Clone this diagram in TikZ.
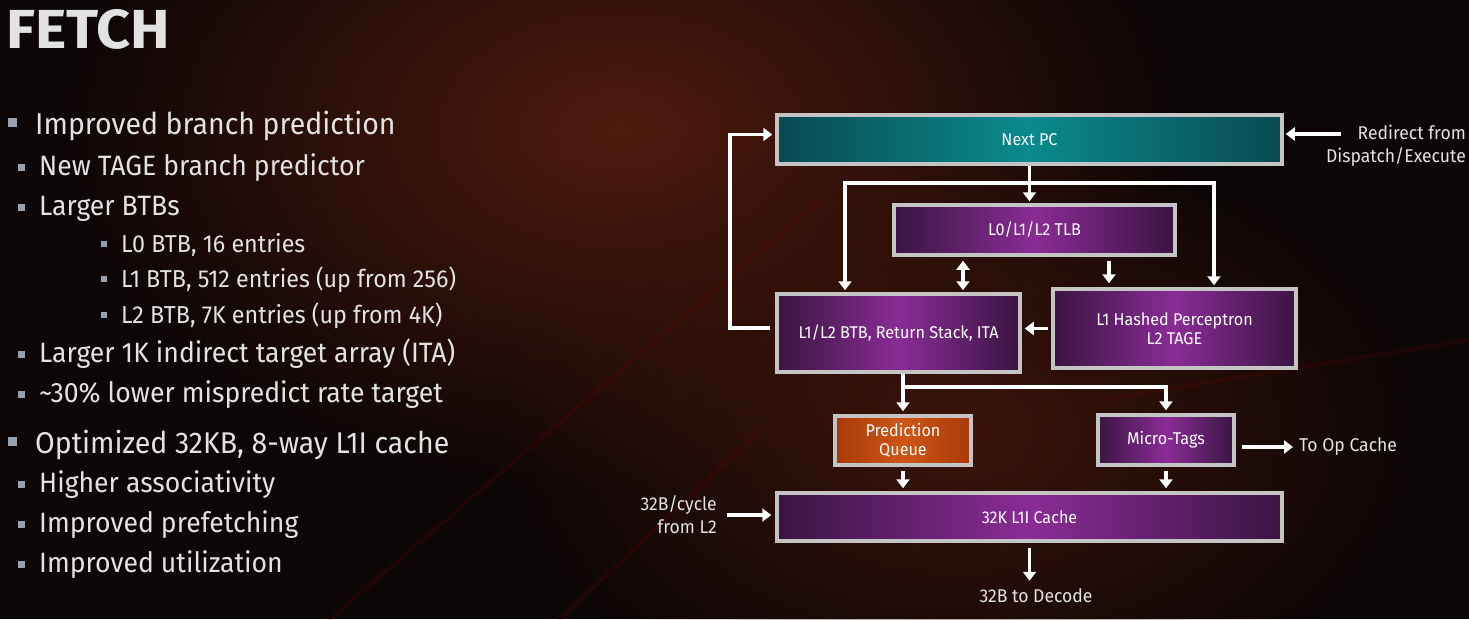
\documentclass[tikz,border=0pt]{standalone}
\usepackage{fontspec}
\setmainfont{Fira Sans}[FakeStretch=0.95]
\newfontfamily\titlefont{Fira Sans}[FakeStretch=1.08]
\usetikzlibrary{positioning,arrows.meta,fadings}

\definecolor{slidebg}{RGB}{12,6,6}
\definecolor{ember}{RGB}{80,26,14}
\definecolor{bevel}{RGB}{196,196,196}
\definecolor{plumedge}{RGB}{58,20,66}
\definecolor{plummid}{RGB}{138,44,150}
\definecolor{tealedge}{RGB}{8,74,80}
\definecolor{tealmid}{RGB}{10,138,142}
\definecolor{rustedge}{RGB}{170,58,10}
\definecolor{rustmid}{RGB}{206,86,22}
\definecolor{silver}{RGB}{226,226,226}
\definecolor{bulletgray}{RGB}{150,160,175}

\tikzfading[name=glowfade, inner color=transparent!0, outer color=transparent!100]

\tikzset{
  unit/.style={rectangle, draw=bevel, line width=3.5pt, text=white, align=center,
    inner sep=2pt, font=\fontsize{17}{19}\selectfont},
  pcbox/.style={unit, left color=tealedge, right color=tealedge, middle color=tealmid},
  plumbox/.style={unit, left color=plumedge, right color=plumedge, middle color=plummid},
  rustbox/.style={unit, left color=rustedge, right color=rustedge, middle color=rustmid},
  lbl/.style={text=silver, inner sep=0pt, font=\fontsize{18.5}{23}\selectfont},
  head/.style={text=silver, anchor=base west, inner sep=0pt, font=\fontsize{30}{36}\selectfont},
  sub/.style={text=silver, anchor=base west, inner sep=0pt, font=\fontsize{28}{32}\selectfont},
  subsub/.style={text=silver, anchor=base west, inner sep=0pt, font=\fontsize{24.5}{28}\selectfont},
  flow/.style={draw=white, line width=3.6pt, -{Triangle[length=9pt,width=13pt]}},
  twoway/.style={flow, {Triangle[length=9pt,width=13pt]}-{Triangle[length=9pt,width=13pt]}},
  glow/.style={path fading=glowfade},
  streak/.style={draw=red!55!black, line width=4pt, opacity=0.14, line cap=round}
}

\begin{document}
\begin{tikzpicture}[x=1pt, y=-1pt]
% background
\useasboundingbox (0,0) rectangle (1469,619);
\begin{scope}
\clip (0,0) rectangle (1469,619);
\fill[slidebg] (0,0) rectangle (1469,619);
\fill[ember, glow] (620,130) ellipse (560 and 360);
\fill[ember!70!slidebg, glow] (960,430) ellipse (460 and 300);
\draw[streak] (330,619) -- (820,200);
\draw[streak] (560,619) -- (760,430);
\draw[streak] (1100,400) -- (1469,340);
\end{scope}

% left column
\node[anchor=base west, inner sep=0pt, text=silver,
  font=\titlefont\bfseries\fontsize{55}{60}\selectfont] (title) at (6,48) {FETCH};
\foreach \y in {122,441} \fill[bulletgray] (8,\y-4.5) rectangle ++(9,9);
\foreach \y in {167,207,354,394,484,524,564} \fill[bulletgray] (18,\y-3.5) rectangle ++(7,7);
\foreach \y in {244,279,315} \fill[bulletgray] (101,\y-3) rectangle ++(6,6);

\node[head] (bp) at (35,134) {Improved branch prediction};
\node[sub] (tage) at (39,175) {New TAGE branch predictor};
\node[sub] (btbs) at (39,215) {Larger BTBs};
\node[subsub] (lzero) at (121,252) {L0 BTB, 16 entries};
\node[subsub] (lone) at (121,287) {L1 BTB, 512 entries (up from 256)};
\node[subsub] (ltwo) at (121,323) {L2 BTB, 7K entries (up from 4K)};
\node[sub] (ita) at (39,362) {Larger 1K indirect target array (ITA)};
\node[sub] (misp) at (39,402) {\textasciitilde30\% lower mispredict rate target};
\node[head] (icache) at (35,453) {Optimized 32KB, 8-way L1I cache};
\node[sub] (assoc) at (39,492) {Higher associativity};
\node[sub] (prefetch) at (39,532) {Improved prefetching};
\node[sub] (util) at (39,572) {Improved utilization};

% fetch blocks
\node[pcbox, minimum width=505, minimum height=49] (pc) at (1029.5,139.5) {Next PC};
\node[plumbox, minimum width=281, minimum height=50] (tlb) at (1034.5,230) {L0/L1/L2 TLB};
\node[plumbox, minimum width=243, minimum height=78] (btb) at (898.5,333) {L1/L2 BTB, Return Stack, ITA};
\node[plumbox, minimum width=243, minimum height=79] (perc) at (1174.5,328.5) {L1 Hashed Perceptron\\L2 TAGE};
\node[rustbox, minimum width=136, minimum height=49] (pq) at (903,440.5) {Prediction\\Queue};
\node[plumbox, minimum width=136, minimum height=50] (mt) at (1166,440) {Micro-Tags};
\node[plumbox, minimum width=505, minimum height=48] (l1i) at (1029.5,517) {32K L1I Cache};

% outside labels
\node[lbl, align=right, anchor=east] (redir) at (1466,146) {Redirect from\\Dispatch/Execute};
\node[lbl, anchor=west] (opcache) at (1299,447) {To Op Cache};
\node[lbl, align=right, anchor=east] (fromltwo) at (717,515) {32B/cycle\\from L2};
\node[lbl] (decode) at (1036,596) {32B to Decode};

% connectors
\coordinate (spanL) at (845,183);
\coordinate (spanR) at (1214,183);
\coordinate (xTwo) at (963,0);
\coordinate (xPerc) at (1109,0);
\coordinate (xBack) at (730,0);
\coordinate (forkQ) at (903,387);
\coordinate (redirTail) at (1341,134);

\draw[flow, shorten >=2pt] (pc.south) -- (pc.south |- tlb.north);
\draw[flow, shorten >=2pt] (spanR) -| (btb.north -| spanL);
\draw[flow, shorten >=2pt] (spanL) -| (perc.north -| spanR);
\draw[twoway, shorten <=4pt, shorten >=2pt] (tlb.south -| xTwo) -- (btb.north -| xTwo);
\draw[flow, shorten <=4pt, shorten >=4pt] (tlb.south -| xPerc) -- (perc.north -| xPerc);
\draw[flow, shorten <=3pt, shorten >=3pt] (perc.west) -- (perc.west -| btb.east);
\draw[flow, shorten <=5pt, shorten >=3pt] ([yshift=5pt]btb.west) -- ([yshift=5pt]btb.west -| xBack) |- ([yshift=5pt]pc.west);
\draw[flow, shorten >=2pt] (redirTail) -- (redirTail -| pc.east);
\draw[flow, shorten >=3pt] (btb.south -| pq.north) -- (pq.north);
\draw[flow, shorten >=3pt] (forkQ) -| (mt.north);
\draw[flow, shorten <=4pt, shorten >=3pt] (pq.south) -- (pq.south |- l1i.north);
\draw[flow, shorten <=4pt, shorten >=3pt] (mt.south) -- (mt.south |- l1i.north);
\draw[flow, shorten <=6pt, shorten >=6pt] (mt.east |- opcache.west) -- (opcache.west);
\draw[flow, shorten <=10pt, shorten >=4pt] (fromltwo.east) -- (fromltwo.east -| l1i.west);
\draw[flow, shorten <=5pt, shorten >=8pt] (l1i.south) -- (l1i.south |- decode.north);
\end{tikzpicture}
\end{document}
